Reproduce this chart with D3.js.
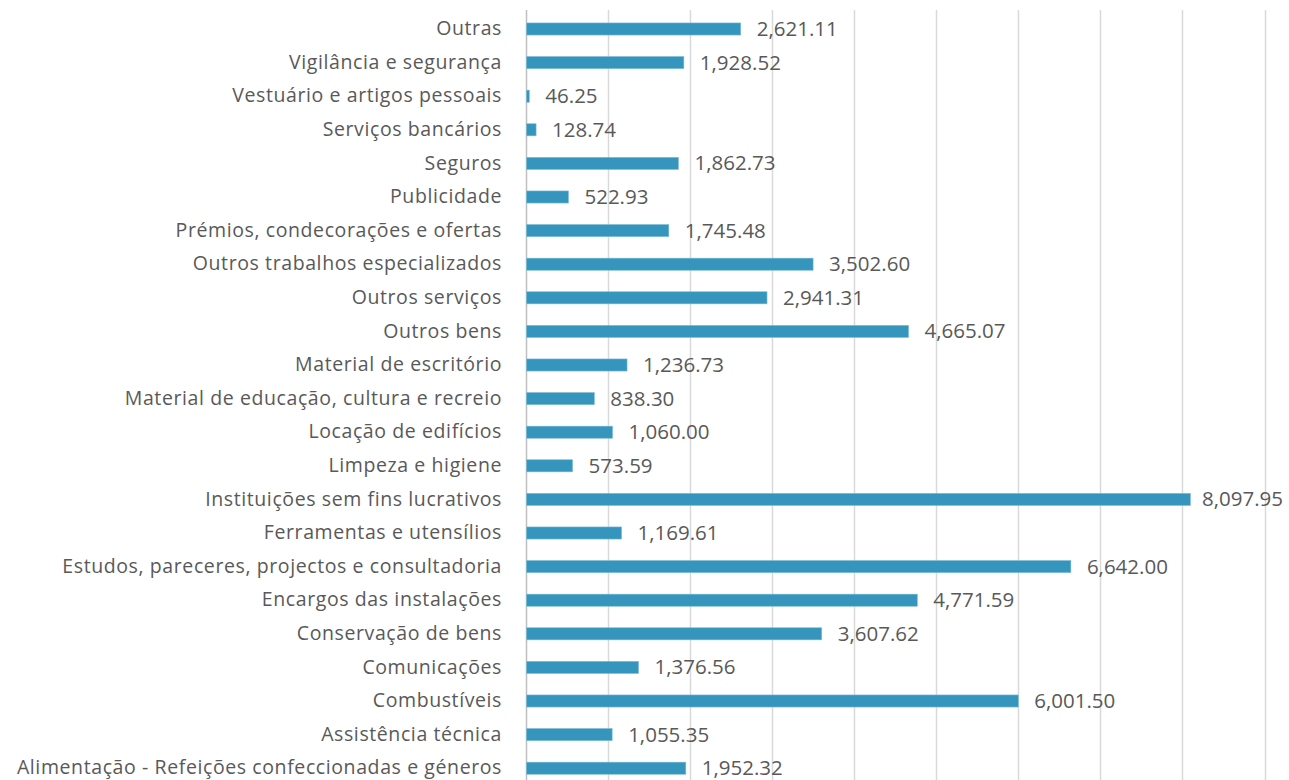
<!DOCTYPE html>
<html>
<head>
<meta charset="utf-8">
<script src="https://cdn.jsdelivr.net/npm/d3@7"></script>
<style>
  body { margin: 0; background: #fff; }
  text { font-family: "Open Sans", sans-serif; fill: #595959; }
</style>
</head>
<body>
<svg id="chart" width="1289" height="780"></svg>
<script>
// categories, top to bottom
var categories = [
	"Outras",
	"Vigilância e segurança",
	"Vestuário e artigos pessoais",
	"Serviços bancários",
	"Seguros",
	"Publicidade",
	"Prémios, condecorações e ofertas",
	"Outros trabalhos especializados",
	"Outros serviços",
	"Outros bens",
	"Material de escritório",
	"Material de educação, cultura e recreio",
	"Locação de edifícios",
	"Limpeza e higiene",
	"Instituições sem fins lucrativos",
	"Ferramentas e utensílios",
	"Estudos, pareceres, projectos e consultadoria",
	"Encargos das instalações",
	"Conservação de bens",
	"Comunicações",
	"Combustíveis",
	"Assistência técnica",
	"Alimentação - Refeições confeccionadas e géneros"
];

var values = [
	2621.11, 1928.52, 46.25, 128.74, 1862.73, 522.93, 1745.48, 3502.60,
	2941.31, 4665.07, 1236.73, 838.30, 1060.00, 573.59, 8097.95, 1169.61,
	6642.00, 4771.59, 3607.62, 1376.56, 6001.50, 1055.35, 1952.32
];

var gridTicks = [0, 1000, 2000, 3000, 4000, 5000, 6000, 7000, 8000, 9000];

var svg = d3.select("#chart");

var x = d3.scaleLinear()
	.domain([0, 9000])
	.range([525.5, 1264.5]);

var y = d3.scaleBand()
	.domain(categories)
	.range([12.2, 12.2 + 33.6 * categories.length])
	.paddingInner(0.64)
	.paddingOuter(0.32);

//vertical gridlines
svg.append("g")
	.selectAll("line")
	.data(gridTicks)
	.enter()
	.append("line")
	.attr("x1", function(d){ return Math.round(x(d)) + 0.5; })
	.attr("x2", function(d){ return Math.round(x(d)) + 0.5; })
	.attr("y1", 10)
	.attr("y2", 780)
	.style("stroke", function(d){ return d === 0 ? "#bfbfbf" : "#d9d9d9"; })
	.style("stroke-width", 1.5);

//bars
svg.append("g")
	.selectAll("rect")
	.data(values)
	.enter()
	.append("rect")
	.attr("x", x(0) + 1)
	.attr("y", function(d, i){ return y(categories[i]); })
	.attr("width", function(d){ return Math.max(0, x(d) - x(0) - 1); })
	.attr("height", y.bandwidth())
	.attr("fill", "#3595bc")
	.style("stroke", "#7dbcd6")
	.style("stroke-width", 0.6);

var fmt = d3.format(",.2f");

//value labels, pushed back inside when they would run off the right edge
svg.append("g")
	.selectAll("text")
	.data(values)
	.enter()
	.append("text")
	.attr("y", function(d, i){ return y(categories[i]) + y.bandwidth() / 2 + 1.5; })
	.attr("dominant-baseline", "middle")
	.style("font-size", "20.5px")
	.text(function(d){ return fmt(d); })
	.attr("x", function(d){
		var w = this.getComputedTextLength();
		return Math.min(x(d) + 16, 1283 - w);
	});

//category labels
svg.append("g")
	.selectAll("text")
	.data(categories)
	.enter()
	.append("text")
	.attr("x", 502)
	.attr("y", function(d){ return y(d) + y.bandwidth() / 2 + 1; })
	.attr("text-anchor", "end")
	.attr("dominant-baseline", "middle")
	.style("font-size", "19.5px")
	.style("letter-spacing", "0.6px")
	.text(function(d){ return d; });
</script>
</body>
</html>
